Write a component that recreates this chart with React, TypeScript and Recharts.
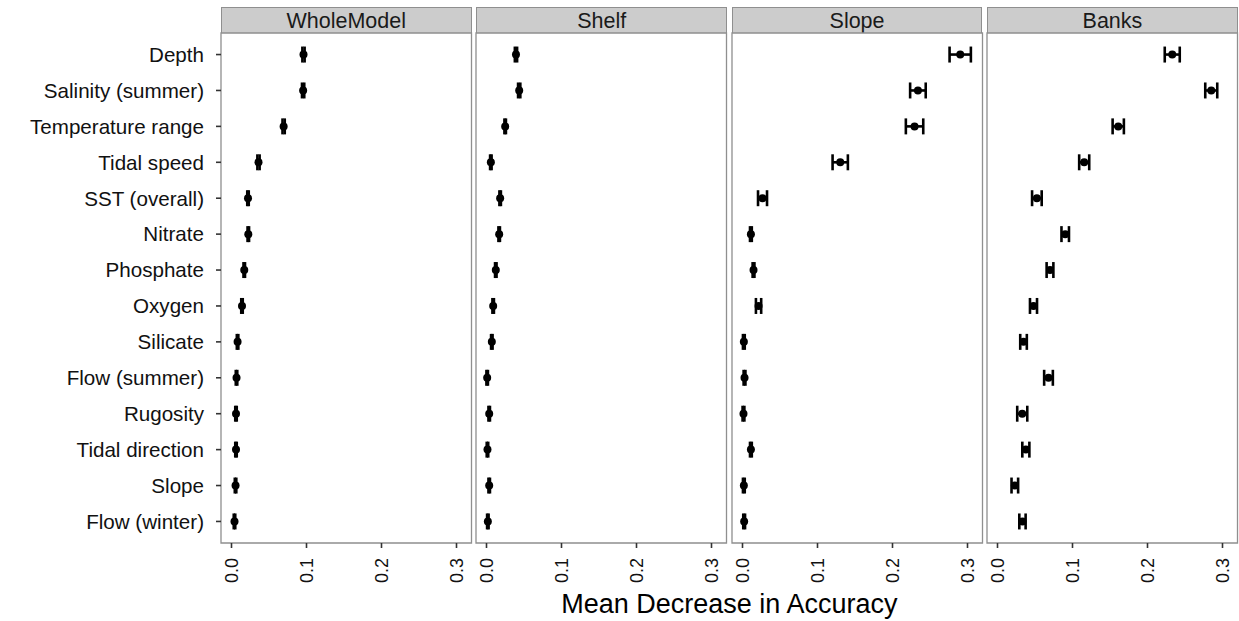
import { ScatterChart, Scatter, XAxis, YAxis, ErrorBar, ReferenceArea } from 'recharts';

const categories = [
  'Depth',
  'Salinity (summer)',
  'Temperature range',
  'Tidal speed',
  'SST (overall)',
  'Nitrate',
  'Phosphate',
  'Oxygen',
  'Silicate',
  'Flow (summer)',
  'Rugosity',
  'Tidal direction',
  'Slope',
  'Flow (winter)',
];

const panelNames = ['WholeModel', 'Shelf', 'Slope', 'Banks'];

const wholeModel = [0.096, 0.0955, 0.0695, 0.036, 0.022, 0.0224, 0.017, 0.014, 0.0081, 0.0067, 0.006, 0.006, 0.0054, 0.004];
const wholeModelErr = [0.0015, 0.0015, 0.0015, 0.0015, 0.001, 0.001, 0.001, 0.001, 0.001, 0.001, 0.001, 0.001, 0.001, 0.001];

const shelf = [0.0393, 0.0436, 0.0249, 0.0058, 0.0182, 0.0169, 0.0124, 0.0089, 0.0071, 0.0009, 0.0036, 0.0013, 0.0036, 0.0018];
const shelfErr = [0.0015, 0.0015, 0.001, 0.001, 0.001, 0.001, 0.001, 0.001, 0.001, 0.001, 0.001, 0.001, 0.001, 0.001];

const slope = [0.2903, 0.2339, 0.2294, 0.1303, 0.0267, 0.0112, 0.0147, 0.0214, 0.0018, 0.0027, 0.0013, 0.0112, 0.0018, 0.0022];
const slopeErr = [0.0142, 0.0104, 0.0116, 0.0102, 0.006, 0.0012, 0.0012, 0.0035, 0.0012, 0.0012, 0.0012, 0.0012, 0.0012, 0.0012];

const banks = [0.233, 0.285, 0.161, 0.1156, 0.0525, 0.0903, 0.07, 0.048, 0.0347, 0.068, 0.033, 0.0378, 0.0231, 0.0333];
const banksErr = [0.01, 0.008, 0.0075, 0.0067, 0.0064, 0.005, 0.0045, 0.0047, 0.0044, 0.0058, 0.0067, 0.0047, 0.0044, 0.0042];

const xTicks = [0, 0.1, 0.2, 0.3];
const yTicks = categories.map((_, i) => i + 1);

const panelValues = [wholeModel, shelf, slope, banks];
const panelErrors = [wholeModelErr, shelfErr, slopeErr, banksErr];

const FONT = '"Liberation Sans", Arial, Helvetica, sans-serif';
const X_DOMAIN: [number, number] = [-0.014, 0.32];
const Y_DOMAIN: [number, number] = [0.4, 14.6];
const PLOT_TOP = 33;
const PLOT_H = 510;
const PANEL_W = 250.5;
const LEFTS = [221, 476.4, 731.8, 987.2];
const Y_AXIS_W = 214;
const PAD = 2;
const X_AXIS_H = 62;
const BORDER = '#8f8f8f';

function RotatedTick(props: any) {
  const { x, y, payload } = props;
  return (
    <text
      x={x}
      y={y}
      transform={`rotate(-90, ${x}, ${y})`}
      textAnchor="end"
      dominantBaseline="central"
      fontSize={18}
      fill="#111"
    >
      {Number(payload.value).toFixed(1)}
    </text>
  );
}

const dot = (props: any) => <circle cx={props.cx} cy={props.cy} r={4} fill="#000" />;

function Panel({ index }: { index: number }) {
  const withY = index === 0;
  const data = categories.map((c, i) => ({
    name: c,
    y: i + 1,
    x: panelValues[index][i],
    err: panelErrors[index][i],
  }));
  const extra = withY ? Y_AXIS_W : 0;
  return (
    <div
      style={{
        position: 'absolute',
        left: LEFTS[index] - PAD - extra,
        top: PLOT_TOP - PAD,
      }}
    >
      <ScatterChart
        width={PANEL_W + 2 * PAD + extra}
        height={PLOT_H + PAD + X_AXIS_H}
        margin={{ top: PAD, right: PAD, bottom: 0, left: PAD }}
      >
        <XAxis
          type="number"
          dataKey="x"
          domain={X_DOMAIN}
          ticks={xTicks}
          allowDataOverflow
          axisLine={false}
          tickLine={{ stroke: '#333', strokeWidth: 1.6 }}
          tickSize={5}
          tickMargin={10}
          height={X_AXIS_H}
          interval={0}
          tick={<RotatedTick />}
        />
        <YAxis
          type="number"
          dataKey="y"
          domain={Y_DOMAIN}
          ticks={yTicks}
          reversed
          allowDataOverflow
          hide={!withY}
          width={Y_AXIS_W}
          interval={0}
          axisLine={false}
          tickLine={{ stroke: '#333', strokeWidth: 1.6 }}
          tickSize={5}
          tickMargin={12}
          tickFormatter={(v: number) => categories[v - 1]}
          tick={{ fill: '#111', fontSize: 20.6 }}
        />
        <ReferenceArea
          x1={X_DOMAIN[0]}
          x2={X_DOMAIN[1]}
          y1={Y_DOMAIN[0]}
          y2={Y_DOMAIN[1]}
          fill="#fff"
          fillOpacity={0}
          stroke={BORDER}
          strokeWidth={1.3}
        />
        <Scatter data={data} shape={dot} isAnimationActive={false}>
          <ErrorBar dataKey="err" direction="x" width={8} stroke="#000" strokeWidth={2.6} />
        </Scatter>
      </ScatterChart>
    </div>
  );
}

export default function App() {
  return (
    <div
      style={{
        position: 'absolute',
        left: 0,
        top: 0,
        width: 1239,
        height: 621,
        background: '#fff',
        fontFamily: FONT,
        color: '#111',
        overflow: 'hidden',
      }}
    >
      {panelNames.map((name, i) => (
        <div
          key={name}
          style={{
            position: 'absolute',
            left: LEFTS[i],
            top: 7,
            width: PANEL_W,
            height: PLOT_TOP - 7,
            boxSizing: 'border-box',
            border: `1.3px solid ${BORDER}`,
            borderBottom: 'none',
            background: '#cccccc',
            fontSize: 21.5,
            lineHeight: `${PLOT_TOP - 7}px`,
            textAlign: 'center',
            color: '#1a1a1a',
          }}
        >
          {name}
        </div>
      ))}
      {panelNames.map((name, i) => (
        <Panel key={name} index={i} />
      ))}
      <div
        style={{
          position: 'absolute',
          left: LEFTS[0],
          width: LEFTS[3] + PANEL_W - LEFTS[0],
          top: 589,
          fontSize: 27,
          lineHeight: '30px',
          textAlign: 'center',
          color: '#000',
        }}
      >
        Mean Decrease in Accuracy
      </div>
    </div>
  );
}
